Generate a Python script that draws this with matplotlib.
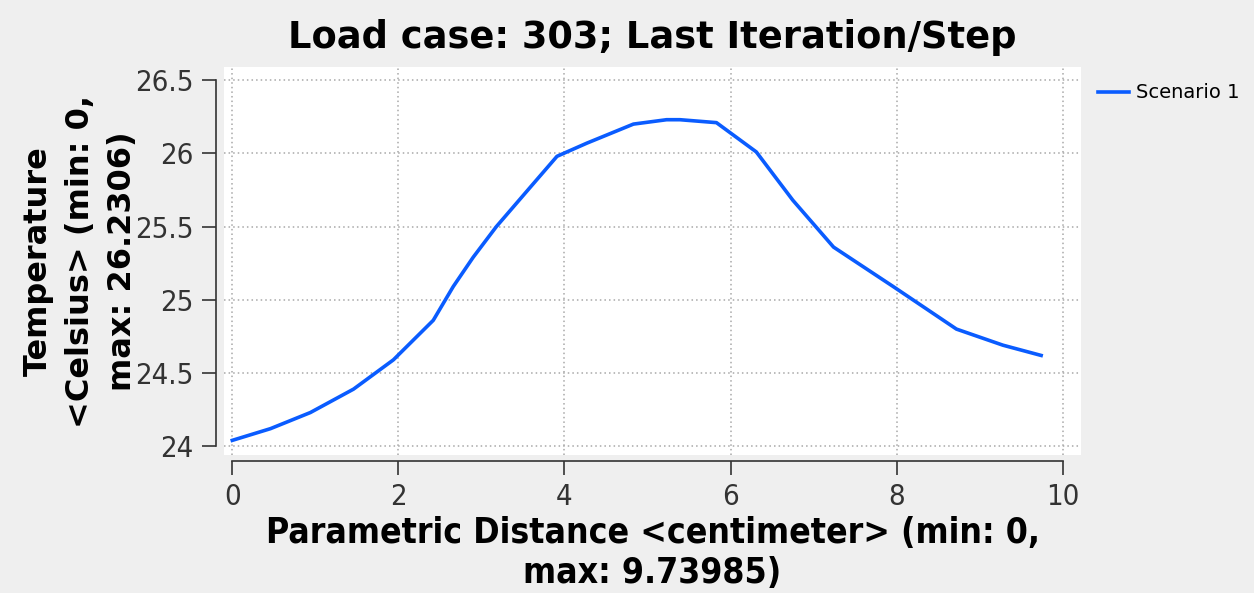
import numpy as np
import matplotlib.pyplot as plt
from matplotlib import font_manager

# --- data ---
distance = [0.0, 0.46, 0.94, 1.46, 1.94, 2.42, 2.66, 2.90, 3.18, 3.59, 3.91,
            4.27, 4.83, 5.23, 5.39, 5.83, 6.31, 6.75, 7.24, 7.96, 8.72, 9.28, 9.74]
temperature = [24.04, 24.12, 24.23, 24.39, 24.59, 24.86, 25.09, 25.29, 25.50,
               25.77, 25.98, 26.07, 26.20, 26.23, 26.23, 26.21, 26.01, 25.68,
               25.36, 25.09, 24.80, 24.69, 24.62]
x_ticks = [0, 2, 4, 6, 8, 10]
y_ticks = [24, 24.5, 25, 25.5, 26, 26.5]
y_tick_labels = ["24", "24.5", "25", "25.5", "26", "26.5"]
series_name = "Scenario 1"

# condensed face for the ticks / x label, if the system has one
cond = [f for f in font_manager.fontManager.ttflist
        if "DejaVu Sans" in f.name and f.stretch == "condensed"]
has_cond = len(cond) > 0

bg = "#efefef"
fig = plt.figure(figsize=(12.54, 5.93), dpi=100, facecolor=bg)
ax = fig.add_axes([224 / 1254, 1 - 455 / 593, 857 / 1254, 388 / 593])
ax.set_facecolor("white")

ax.plot(distance, temperature, color="#0a5cff", lw=2.6, label=series_name)

ax.set_xlim(-0.1, 10.22)
ax.set_ylim(23.94, 26.59)
ax.set_xticks(x_ticks)
ax.set_yticks(y_ticks)
ax.set_yticklabels(y_tick_labels)

ax.grid(True, color="#a8a8a8", linestyle=(0, (1, 2)), lw=1.1)

for s in ["top", "right"]:
    ax.spines[s].set_visible(False)
ax.spines["left"].set_position(("outward", 6))
ax.spines["bottom"].set_position(("outward", 4))
ax.spines["left"].set_bounds(24, 26.5)
ax.spines["bottom"].set_bounds(0, 10)
for s in ["left", "bottom"]:
    ax.spines[s].set_color("#333333")
    ax.spines[s].set_linewidth(1.2)

tick_size = 21 if has_cond else 19
ax.tick_params(axis="x", length=10, width=1.2, color="#333333", pad=6,
               labelsize=tick_size, labelcolor="#333333")
ax.tick_params(axis="y", length=10, width=1.2, color="#333333", pad=6,
               labelsize=tick_size, labelcolor="#333333")
if has_cond:
    for lbl in ax.get_xticklabels() + ax.get_yticklabels():
        lbl.set_fontstretch("condensed")

ax.set_xlabel("Parametric Distance <centimeter> (min: 0,\nmax: 9.73985)",
              fontsize=25.5 if has_cond else 23, fontweight="bold",
              fontstretch="condensed" if has_cond else "normal",
              labelpad=4, linespacing=1.2)
ax.set_ylabel("Temperature\n<Celsius> (min: 0,\nmax: 26.2306)",
              fontsize=23, fontweight="bold", labelpad=-2, linespacing=1.45)
ax.set_title("Load case: 303; Last Iteration/Step", fontsize=26.5,
             fontweight="bold", pad=14)

fig.legend(loc="upper left", bbox_to_anchor=(1080 / 1254, 1 - 66 / 593),
           frameon=False, fontsize=14, handlelength=1.6, handletextpad=0.4)

fig.savefig("out.png", dpi=100, facecolor=bg)
